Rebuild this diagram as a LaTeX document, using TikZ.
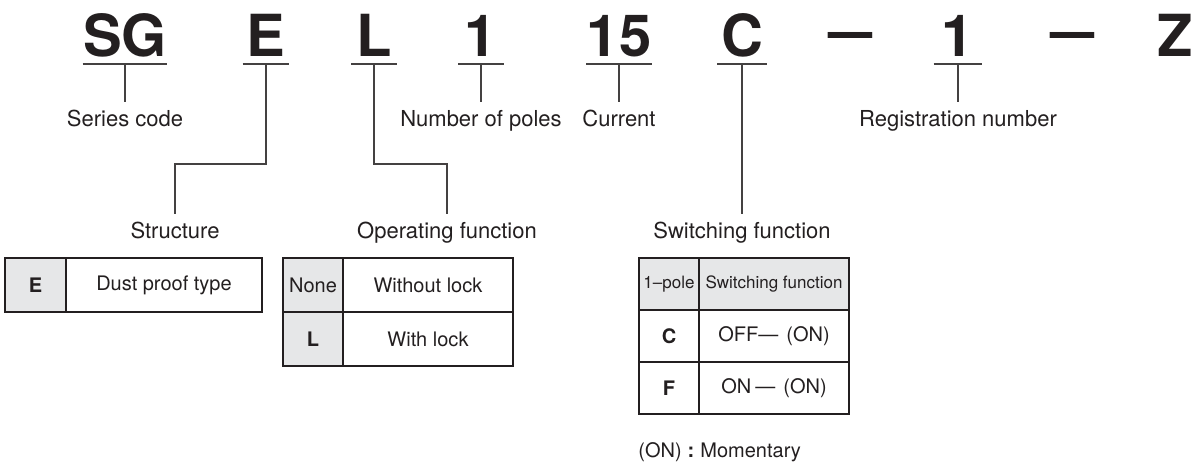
\documentclass[tikz,border=0pt]{standalone}
\usepackage{fontspec}
\setmainfont{TeX Gyre Heros}
\usetikzlibrary{positioning}
\definecolor{ink}{HTML}{231F20}
\definecolor{cellgray}{HTML}{E6E7E8}

\begin{document}
\begin{tikzpicture}[x=0.5pt,y=-0.5pt,node distance=0pt,
		code/.style={font=\fontsize{29}{30}\selectfont\bfseries,text=ink,inner xsep=0pt,inner ysep=3.5pt,text depth=0pt,anchor=south},
		lbl/.style={font=\fontsize{11}{12}\selectfont,text=ink,inner sep=0pt,text height=8pt,text depth=2pt,outer ysep=4pt,anchor=base},
		conn/.style={draw=ink!85,line width=0.75pt},
		cell/.style={draw=ink,line width=1pt,inner sep=0pt,outer sep=0pt,minimum height=27pt,font=\fontsize{10}{12}\selectfont,text=ink},
		keycell/.style={cell,fill=cellgray},
		swrow/.style={minimum height=26pt}]
	\useasboundingbox (0,0) rectangle (1193,461);
	% model code
	\node[code,minimum width=42pt] (sg) at (125,64)   {SG};
	\node[code,minimum width=23pt] (e)  at (266,64)   {E};
	\node[code,minimum width=22.5pt] (l) at (374,64)  {L};
	\node[code,minimum width=22.5pt] (p) at (481,64)  {1};
	\node[code,minimum width=30.5pt] (i) at (619,64)  {15};
	\node[code,minimum width=24.5pt] (c) at (742,64)  {C};
	\node[code] (d1) at (851,58)                       {\scalebox{0.76}[1]{—}};
	\node[code,minimum width=24pt] (r) at (958,64)    {1};
	\node[code] (d2) at (1073,58)                      {\scalebox{0.76}[1]{—}};
	\node[code] (z) at (1175,64)                       {Z};
	\foreach \n in {sg,e,l,p,i,c,r}
		\draw[conn] (\n.south west) -- (\n.south east);
	% labels
	\node[lbl] (series)  at (125,126) {Series code};
	\node[lbl] (poles)   at (481,126) {Number of poles};
	\node[lbl] (current) at (619,126) {Current};
	\node[lbl] (reg)     at (958,126) {Registration number};
	\node[lbl] (struct)  at (175,238) {Structure};
	\node[lbl] (opfun)   at (447,238) {Operating function};
	\node[lbl] (swfun)   at (742,238) {Switching function};
	\foreach \a/\b in {sg/series,p/poles,i/current,r/reg,c/swfun}
		\draw[conn] (\a) -- (\b);
	\draw[conn] (e.south) -- ++(0,100) -| (struct);
	\draw[conn] (l.south) -- ++(0,100) -| (opfun);
	% structure
	\node[keycell,minimum width=30.5pt,anchor=north west] (s0) at (5,258) {\textbf{E}};
	\node[cell,minimum width=98pt,right=of s0] (s1) {Dust proof type};
	% operating function
	\node[keycell,minimum width=30pt,anchor=north west] (o0) at (283,258) {None};
	\node[cell,minimum width=85pt,right=of o0] (o1) {Without lock};
	\node[keycell,minimum width=30pt,below=of o0] (o2) {\textbf{L}};
	\node[cell,minimum width=85pt,below=of o1] (o3) {With lock};
	% switching function
	\node[keycell,swrow,minimum width=30pt,anchor=north west,font=\fontsize{8.5}{10}\selectfont] (w0) at (639,258) {1–pole};
	\node[keycell,swrow,minimum width=75pt,right=of w0,font=\fontsize{8.5}{10}\selectfont] (w1) {Switching function};
	\node[cell,swrow,minimum width=30pt,below=of w0] (w2) {\textbf{C}};
	\node[cell,swrow,minimum width=75pt,below=of w1] (w3) {OFF—\hspace{4pt}(ON)};
	\node[cell,swrow,minimum width=30pt,below=of w2] (w4) {\textbf{F}};
	\node[cell,swrow,minimum width=75pt,below=of w3] (w5) {ON\hspace{2pt}—\hspace{4pt}(ON)};
	\node[anchor=base west,inner sep=0pt,text=ink,font=\fontsize{10}{12}\selectfont] (mom) at (638,457) {(ON)\hspace{3pt}\textbf{:}\hspace{3pt}Momentary};
\end{tikzpicture}
\end{document}
